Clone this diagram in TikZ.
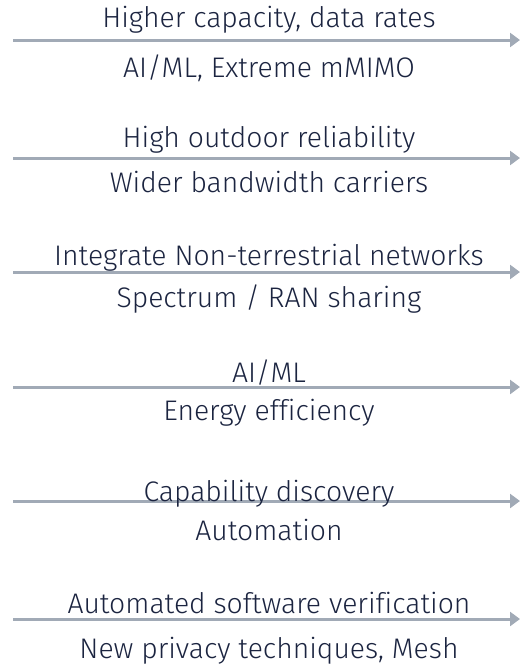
\documentclass[tikz,border=0pt]{standalone}
\usepackage{fontspec}
\setmainfont{Fira Sans Light}[Ligatures=CommonOff]
\usetikzlibrary{arrows.meta}
\definecolor{linegray}{HTML}{A1AAB6}
\definecolor{textnavy}{HTML}{1B2440}
\begin{document}
\begin{tikzpicture}[x=1pt,y=-1pt,
  lbl/.style={anchor=base,inner sep=0pt,text=textnavy,font=\fontsize{28.3}{32}\selectfont},
  arr/.style={draw=linegray,line width=3pt,-{Triangle[length=10pt,width=14pt]}}]
\useasboundingbox (0,0) rectangle (520,664);
% timeline arrows
\foreach \i/\y in {1/40,2/158,3/272,4/387,5/501,6/619}{
  \coordinate (s\i) at (13,\y);
  \coordinate (e\i) at (520,\y);
  \draw[arr] (s\i) -- (e\i);
}
% labels above and below each arrow
\node[lbl] (a1) at (269,27)  {Higher capacity, data rates};
\node[lbl] (b1) at (269,77)  {AI/ML, Extreme mMIMO};
\node[lbl] (a2) at (269,147) {High outdoor reliability};
\node[lbl] (b2) at (269,192) {Wider bandwidth carriers};
\node[lbl] (a3) at (269,265) {Integrate Non-terrestrial networks};
\node[lbl] (b3) at (269,307) {Spectrum / RAN sharing};
\node[lbl] (a4) at (269,382) {AI/ML};
\node[lbl] (b4) at (269,420) {Energy efficiency};
\node[lbl] (a5) at (269,501) {Capability discovery};
\node[lbl] (b5) at (269,540) {Automation};
\node[lbl] (a6) at (269,613) {Automated software verification};
\node[lbl] (b6) at (269,658) {New privacy techniques, Mesh};
\end{tikzpicture}
\end{document}
